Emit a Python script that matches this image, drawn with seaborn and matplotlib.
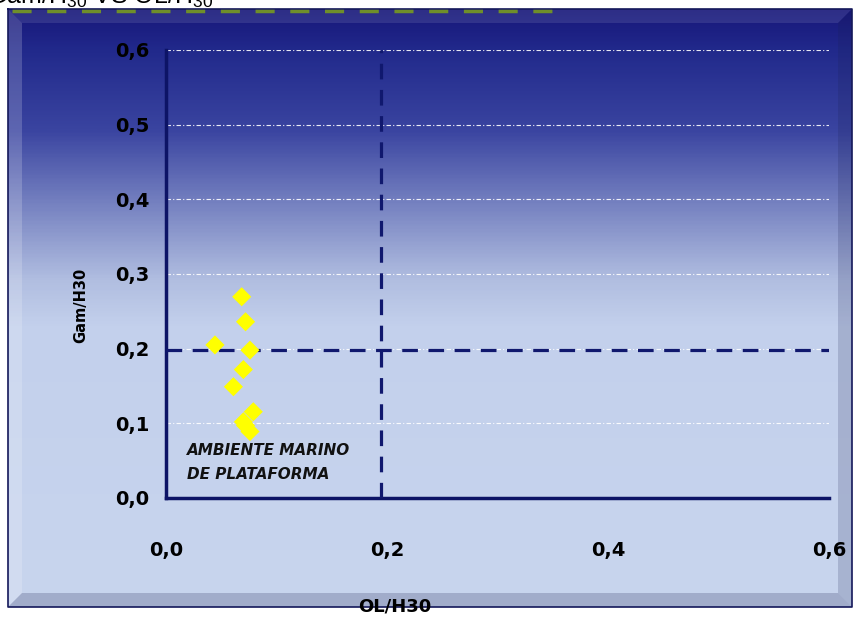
import numpy as np
import matplotlib
matplotlib.use('Agg')
import matplotlib.pyplot as plt
import seaborn as sns
from matplotlib.colors import LinearSegmentedColormap
from matplotlib.patches import Polygon

# data
ol_h30 = [0.0685, 0.072, 0.0443, 0.076, 0.070, 0.061, 0.079, 0.070, 0.072, 0.076]
gam_h30 = [0.2695, 0.236, 0.205, 0.198, 0.172, 0.149, 0.1155, 0.102, 0.097, 0.089]

limit_ol = 0.195
limit_gam = 0.198

x_ticks = [0.0, 0.2, 0.4, 0.6]
x_tick_labels = ['0,0', '0,2', '0,4', '0,6']
y_ticks = [0.0, 0.1, 0.2, 0.3, 0.4, 0.5, 0.6]
y_tick_labels = ['0,0', '0,1', '0,2', '0,3', '0,4', '0,5', '0,6']

zone_label = ['AMBIENTE MARINO', 'DE PLATAFORMA']
title = 'Gam/H$_{30}$ VS OL/H$_{30}$'

sns.set_style('white')
plt.rcParams['font.family'] = ['DejaVu Sans']
plt.rcParams['mathtext.default'] = 'regular'
plt.rcParams['text.color'] = 'black'
plt.rcParams['axes.labelcolor'] = 'black'
plt.rcParams['xtick.color'] = 'black'
plt.rcParams['ytick.color'] = 'black'

W, H = 858, 618
fig = plt.figure(figsize=(W / 100, H / 100), dpi=100, facecolor='white')

# background frame with vertical gradient
bg = fig.add_axes([0, 0, 1, 1])
bg.set_xlim(0, W)
bg.set_ylim(H, 0)
bg.axis('off')

left, right, top, bottom = 8, 852, 9, 607
grad = LinearSegmentedColormap.from_list('frame', [
    (0.0, '#17177a'),
    (0.07, '#222a8c'),
    (0.20, '#3a44a0'),
    (0.33, '#7884c2'),
    (0.45, '#b0bde0'),
    (0.53, '#c3d0ec'),
    (1.0, '#c8d5ee')])
bg.imshow(np.linspace(0, 1, 400).reshape(-1, 1), cmap=grad, aspect='auto',
          extent=(left, right, bottom, top), zorder=0)

# bevel edges
b = 14
bg.add_patch(Polygon([(left, top), (right, top), (right - b, top + b), (left + b, top + b)],
                     closed=True, facecolor='white', alpha=0.10, edgecolor='none', zorder=1))
bg.add_patch(Polygon([(left, top), (left + b, top + b), (left + b, bottom - b), (left, bottom)],
                     closed=True, facecolor='white', alpha=0.18, edgecolor='none', zorder=1))
bg.add_patch(Polygon([(right, top), (right, bottom), (right - b, bottom - b), (right - b, top + b)],
                     closed=True, facecolor='#1a1f50', alpha=0.18, edgecolor='none', zorder=1))
bg.add_patch(Polygon([(left, bottom), (right, bottom), (right - b, bottom - b), (left + b, bottom - b)],
                     closed=True, facecolor='#1a1f50', alpha=0.22, edgecolor='none', zorder=1))
bg.plot([left, right, right, left, left], [top, top, bottom, bottom, top],
        color='#14185a', lw=1.2, zorder=2)
# dashed green border along the top
bg.plot([12, 552], [11, 11], color='#6f8f2a', lw=2.5, dashes=(5.5, 4.5), zorder=3)

# title, cut by the top edge as in the original export
fig.text(213 / W, 1 - 4 / H, title, ha='right', va='baseline',
         fontsize=18, family=['Liberation Sans', 'DejaVu Sans'])

# main plot
ax = fig.add_axes([166 / W, 1 - 498 / H, 663 / W, 448 / H])
ax.patch.set_alpha(0)

ax.grid(axis='y', color='white', lw=0.8, linestyle=(0, (4, 2, 1, 2)), alpha=0.9)
ax.grid(axis='x', visible=False)
ax.set_axisbelow(True)

ax.axhline(limit_gam, color='#10186e', lw=2.3, dashes=(4.9, 3.3), zorder=3)
ax.axvline(limit_ol, color='#10186e', lw=2.3, dashes=(4.9, 3.3), zorder=3)

sns.scatterplot(x=ol_h30, y=gam_h30, marker='D', s=95, color='#ffff00',
                edgecolor='none', ax=ax, zorder=4, clip_on=False)

ax.text(0.019, 0.063, zone_label[0], fontsize=11, fontweight='bold',
        fontstyle='italic', color='#111111', va='center')
ax.text(0.019, 0.032, zone_label[1], fontsize=11, fontweight='bold',
        fontstyle='italic', color='#111111', va='center')

ax.set_xlim(0, 0.6)
ax.set_ylim(0, 0.6)
ax.set_xticks(x_ticks)
ax.set_xticklabels(x_tick_labels, fontsize=14, fontweight='bold')
ax.set_yticks(y_ticks)
ax.set_yticklabels(y_tick_labels, fontsize=14, fontweight='bold')
ax.tick_params(axis='x', direction='out', length=5, width=1.5, color='#10186e', pad=26)
ax.tick_params(axis='y', direction='out', length=4, width=1.5, color='#10186e', pad=8)

for side in ['top', 'right']:
    ax.spines[side].set_visible(False)
for side in ['left', 'bottom']:
    ax.spines[side].set_color('#0d1466')
    ax.spines[side].set_linewidth(2.5)

ax.set_xlabel('OL/H30', fontsize=13, fontweight='bold')
ax.xaxis.set_label_coords(0.345, -0.223)
ax.set_ylabel('Gam/H30', fontsize=10.5, fontweight='bold')
ax.yaxis.set_label_coords(-0.118, 0.43)

fig.savefig('out.png', dpi=100, facecolor='white')
